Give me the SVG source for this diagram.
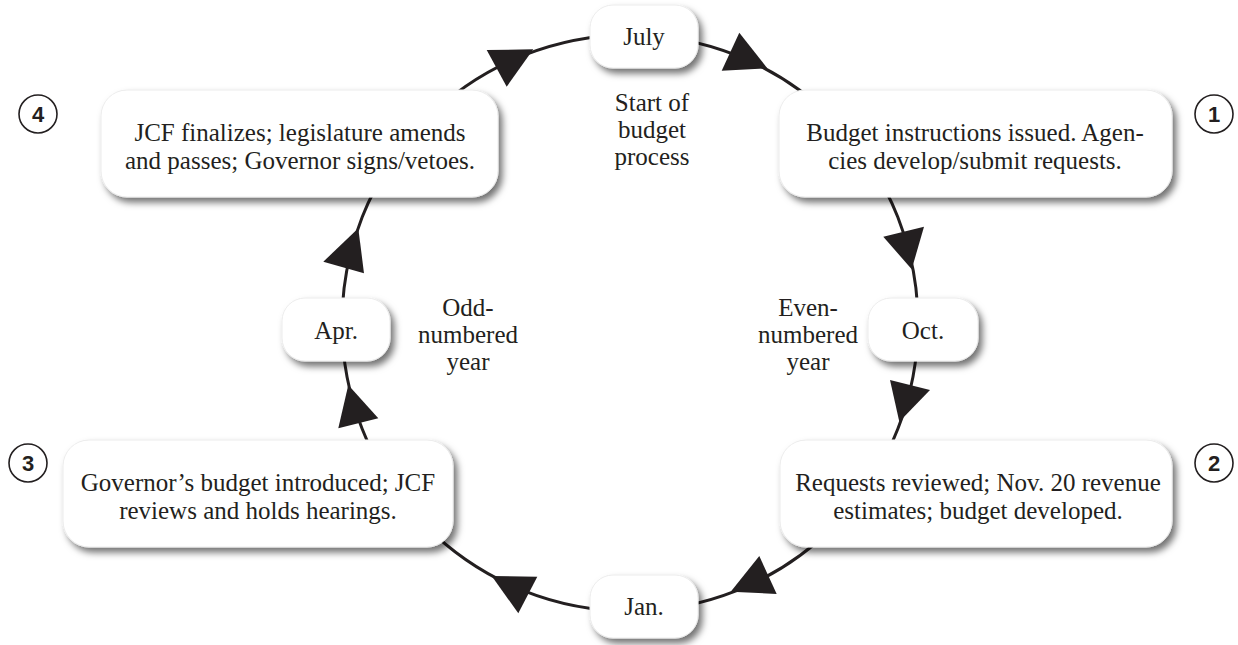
<svg xmlns="http://www.w3.org/2000/svg" width="1238" height="645" viewBox="0 0 1238 645">
<style>
.box{fill:#fff;stroke:#ececec;stroke-width:1;filter:url(#sh)}
.t{font-size:25px;fill:#231f20;text-anchor:middle}
.num{font-weight:bold;font-size:22px;fill:#231f20;text-anchor:middle}
.nc{fill:#fff;stroke:#231f20;stroke-width:1.6}
.line{fill:none;stroke:#231f20;stroke-width:3}
.ah{fill:#231f20}
</style>
<defs>
<filter id="sh" x="-20%" y="-30%" width="140%" height="170%">
<feDropShadow dx="4" dy="5" stdDeviation="3.5" flood-color="#000" flood-opacity="0.55"/>
</filter>
</defs>
<rect width="1238" height="645" fill="#fff"/>
<g id="connectors">
<circle class="line" cx="630" cy="323" r="288"/>
<polygon class="ah" points="486.7,50 533.3,49.3 506.7,86.7"/>
<polygon class="ah" points="739.3,32.7 721.7,70.7 767.3,68.3"/>
<polygon class="ah" points="883.3,236.7 924,226.7 911.7,269.3"/>
<polygon class="ah" points="890,380 930,390 899.3,421.7"/>
<polygon class="ah" points="759.3,556 730.7,591.7 776.7,594"/>
<polygon class="ah" points="491.7,576 537.3,576.7 518.3,613.3"/>
<polygon class="ah" points="348.3,385 338.3,428.3 378.3,418.3"/>
<polygon class="ah" points="358.3,228.3 323.3,261.7 364,273.3"/>
</g>
<g font-family="'Liberation Serif', 'DejaVu Serif', serif">
<g id="july"><rect class="box" x="590" y="5" width="108" height="63" rx="23"/><text class="t" x="644" y="45">July</text></g>
<g id="oct"><rect class="box" x="868" y="298" width="110" height="63" rx="23"/><text class="t" x="923" y="339">Oct.</text></g>
<g id="jan"><rect class="box" x="590" y="575" width="108" height="63" rx="23"/><text class="t" x="644" y="615">Jan.</text></g>
<g id="apr"><rect class="box" x="282" y="298" width="108" height="63" rx="23"/><text class="t" x="336" y="339">Apr.</text></g>
<g id="step1">
<rect class="box" x="779" y="90" width="393" height="107" rx="26"/>
<text class="t" x="975" y="141">Budget instructions issued. Agen-</text>
<text class="t" x="975" y="169">cies develop/submit requests.</text>
<circle class="nc" cx="1214" cy="114" r="19"/><text class="num" x="1214" y="122" font-family="'Liberation Sans', sans-serif">1</text>
</g>
<g id="step2">
<rect class="box" x="780" y="440" width="392" height="107" rx="26"/>
<text class="t" x="978" y="491">Requests reviewed; Nov. 20 revenue</text>
<text class="t" x="978" y="519">estimates; budget developed.</text>
<circle class="nc" cx="1214" cy="463" r="19"/><text class="num" x="1214" y="471" font-family="'Liberation Sans', sans-serif">2</text>
</g>
<g id="step3">
<rect class="box" x="63" y="440" width="390" height="107" rx="26"/>
<text class="t" x="258" y="491">Governor’s budget introduced; JCF</text>
<text class="t" x="258" y="519">reviews and holds hearings.</text>
<circle class="nc" cx="28" cy="463" r="19"/><text class="num" x="28" y="471" font-family="'Liberation Sans', sans-serif">3</text>
</g>
<g id="step4">
<rect class="box" x="101" y="90" width="397" height="107" rx="26"/>
<text class="t" x="300" y="141">JCF finalizes; legislature amends</text>
<text class="t" x="300" y="169">and passes; Governor signs/vetoes.</text>
<circle class="nc" cx="38" cy="114" r="19"/><text class="num" x="38" y="122" font-family="'Liberation Sans', sans-serif">4</text>
</g>
<g id="start-label">
<text class="t" x="652" y="111">Start of</text>
<text class="t" x="652" y="138">budget</text>
<text class="t" x="652" y="165">process</text>
</g>
<g id="odd-label">
<text class="t" x="468" y="316">Odd-</text>
<text class="t" x="468" y="343">numbered</text>
<text class="t" x="468" y="370">year</text>
</g>
<g id="even-label">
<text class="t" x="808" y="316">Even-</text>
<text class="t" x="808" y="343">numbered</text>
<text class="t" x="808" y="370">year</text>
</g>
</g>
</svg>
